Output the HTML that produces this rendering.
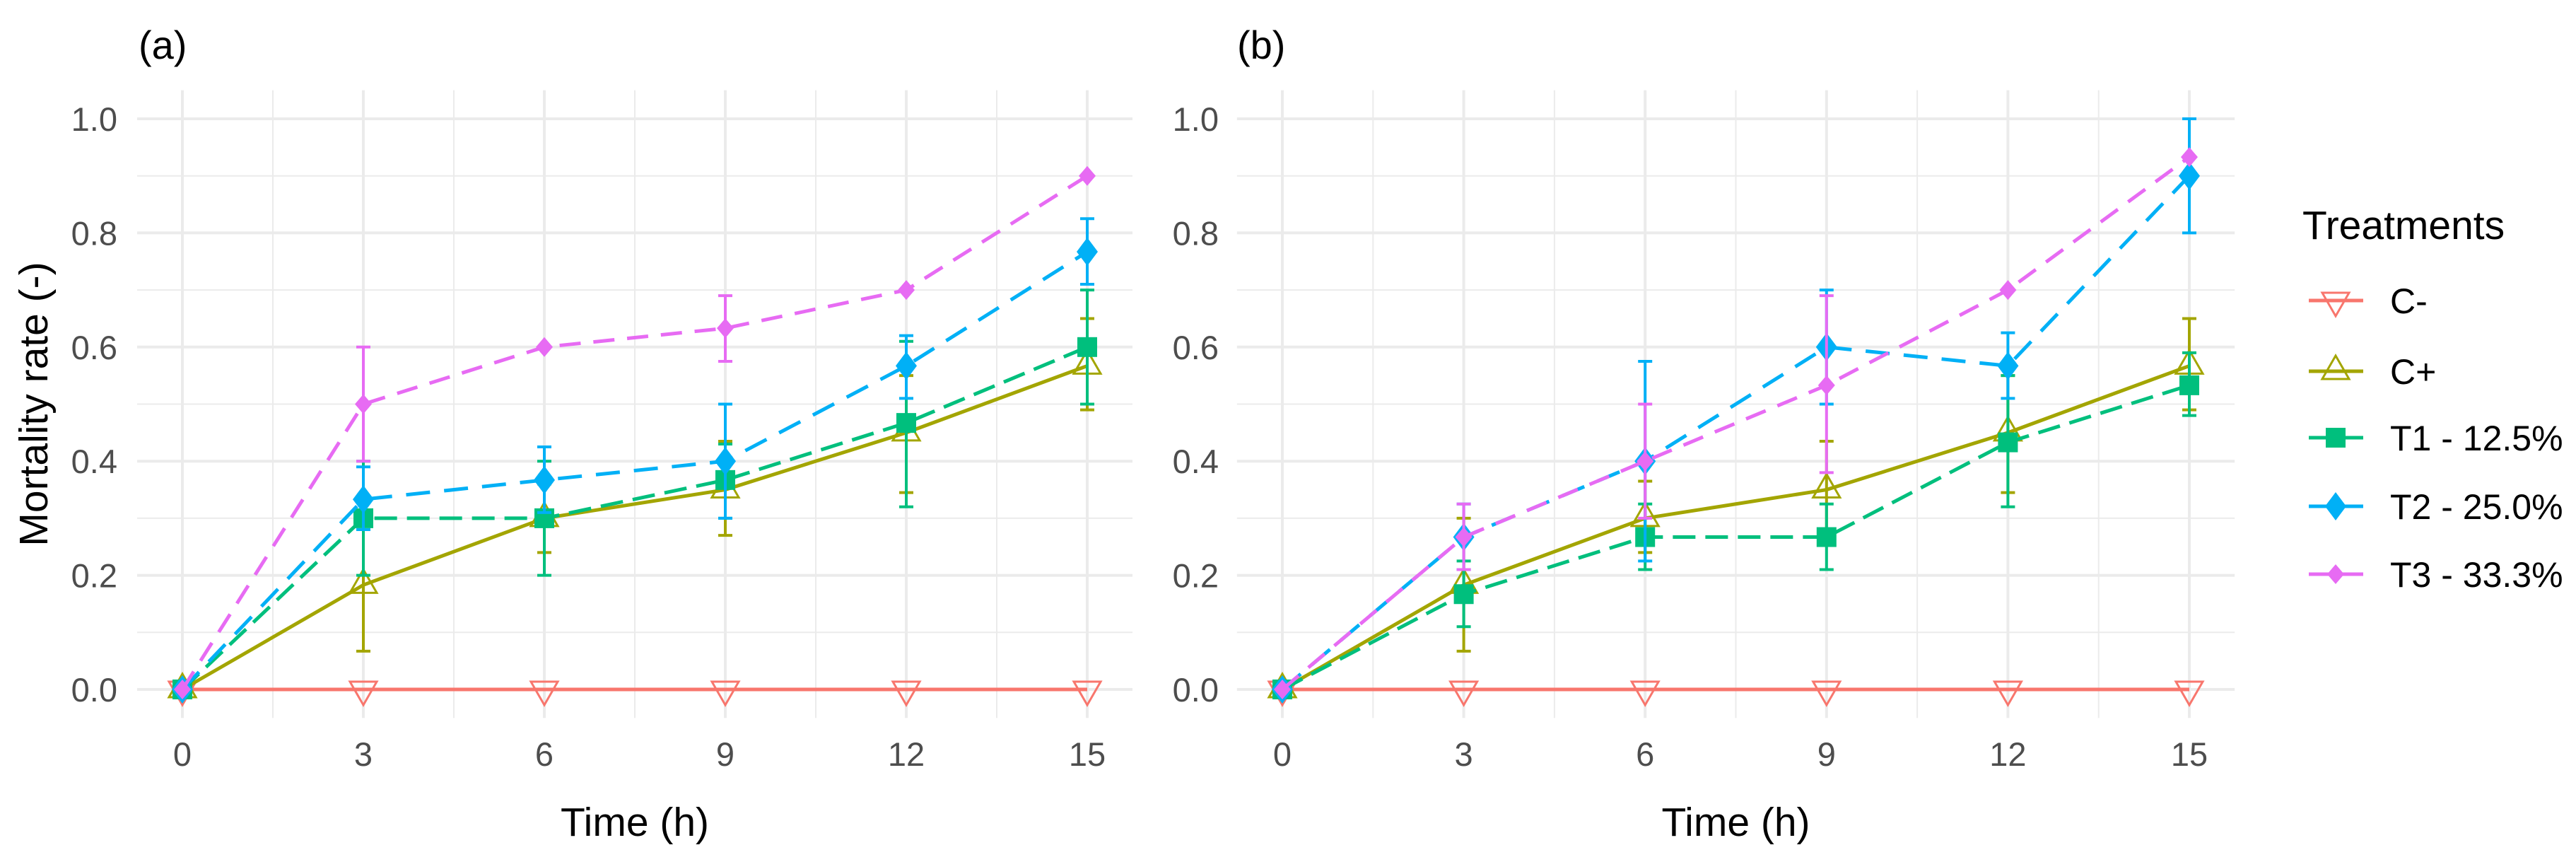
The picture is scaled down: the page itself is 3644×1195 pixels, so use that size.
<!DOCTYPE html>
<html><head><meta charset="utf-8"><style>
html,body{margin:0;padding:0;background:#fff;}
svg{display:block;font-family:"Liberation Sans",Arial,sans-serif;}
</style></head><body>
<svg id="chart" width="3644" height="1195" viewBox="0 0 3644 1195" xmlns="http://www.w3.org/2000/svg"></svg>
<script>
const times = [0, 3, 6, 9, 12, 15];
const seriesNames = ["C-", "C+", "T1 - 12.5%", "T2 - 25.0%", "T3 - 33.3%"];
const xTicks = [0, 3, 6, 9, 12, 15];
const yTicks = [0, 0.2, 0.4, 0.6, 0.8, 1.0];
const yTickLabels = ["0.0", "0.2", "0.4", "0.6", "0.8", "1.0"];

// Panel (a)
const aCm = [0, 0, 0, 0, 0, 0];
const aCp = [0, 0.183, 0.3, 0.35, 0.45, 0.567];
const aCpLo = [0, 0.067, 0.24, 0.27, 0.345, 0.49];
const aCpHi = [0, 0.3, 0.36, 0.435, 0.55, 0.65];
const aT1 = [0, 0.3, 0.3, 0.367, 0.467, 0.6];
const aT1Lo = [0, 0.2, 0.2, 0.3, 0.32, 0.5];
const aT1Hi = [0, 0.4, 0.4, 0.43, 0.61, 0.7];
const aT2 = [0, 0.333, 0.367, 0.4, 0.567, 0.767];
const aT2Lo = [0, 0.28, 0.31, 0.3, 0.51, 0.71];
const aT2Hi = [0, 0.39, 0.425, 0.5, 0.62, 0.825];
const aT3 = [0, 0.5, 0.6, 0.633, 0.7, 0.9];
const aT3Lo = [0, 0.4, 0.6, 0.575, 0.7, 0.9];
const aT3Hi = [0, 0.6, 0.6, 0.69, 0.7, 0.9];

// Panel (b)
const bCm = [0, 0, 0, 0, 0, 0];
const bCp = [0, 0.183, 0.3, 0.35, 0.45, 0.567];
const bCpLo = [0, 0.067, 0.24, 0.27, 0.345, 0.49];
const bCpHi = [0, 0.3, 0.365, 0.435, 0.55, 0.65];
const bT1 = [0, 0.167, 0.267, 0.267, 0.433, 0.533];
const bT1Lo = [0, 0.11, 0.21, 0.21, 0.32, 0.48];
const bT1Hi = [0, 0.225, 0.325, 0.325, 0.55, 0.59];
const bT2 = [0, 0.267, 0.4, 0.6, 0.567, 0.9];
const bT2Lo = [0, 0.21, 0.225, 0.5, 0.51, 0.8];
const bT2Hi = [0, 0.325, 0.575, 0.7, 0.625, 1.0];
const bT3 = [0, 0.267, 0.4, 0.533, 0.7, 0.933];
const bT3Lo = [0, 0.21, 0.3, 0.38, 0.7, 0.933];
const bT3Hi = [0, 0.325, 0.5, 0.69, 0.7, 0.933];

const colors = ["#F8766D", "#A3A500", "#00BF7D", "#00B0F6", "#E76BF3"];
const dashes = [null, null, "32 14", "34 20", "30 18"];
const shapes = ["tri-down", "tri-up", "square", "diamond", "diamond-s"];

const NS = "http://www.w3.org/2000/svg";
const svg = document.getElementById("chart");
function mk(tag, attrs, parent) {
  const e = document.createElementNS(NS, tag);
  for (const k in attrs) e.setAttribute(k, attrs[k]);
  (parent || svg).appendChild(e);
  return e;
}

function marker(g, shape, cx, cy, color) {
  let m;
  if (shape === "tri-down") {
    const s = 19;
    m = mk("polygon", {points: `${cx-s},${cy-11} ${cx+s},${cy-11} ${cx},${cy+22}`, fill: "none", stroke: color, "stroke-width": 3}, g);
  } else if (shape === "tri-up") {
    const s = 19;
    m = mk("polygon", {points: `${cx-s},${cy+11} ${cx+s},${cy+11} ${cx},${cy-22}`, fill: "none", stroke: color, "stroke-width": 3}, g);
  } else if (shape === "square") {
    m = mk("rect", {x: cx-14, y: cy-14, width: 28, height: 28, fill: color}, g);
  } else if (shape === "diamond") {
    m = mk("polygon", {points: `${cx},${cy-20} ${cx+15},${cy} ${cx},${cy+20} ${cx-15},${cy}`, fill: color}, g);
  } else {
    m = mk("polygon", {points: `${cx},${cy-14} ${cx+12},${cy} ${cx},${cy+14} ${cx-12},${cy}`, fill: color}, g);
  }
  return m;
}

function panel(opts) {
  const {x0px, x15px, label, labelX, yLabelRight, data, showYTitle, name} = opts;
  const yTop = 168, yBot = 975;
  const xs = v => x0px + (x15px - x0px) * v / 15;
  const ys = v => yBot - (yBot - yTop) * v;
  const ext = (x15px - x0px) * 0.05;
  const left = x0px - ext, right = x15px + ext;
  const top = ys(1.05), bot = ys(-0.05);
  const g = mk("g", {});
  
  

  // minor grid
  for (let i = 0; i < yTicks.length - 1; i++) {
    const v = (yTicks[i] + yTicks[i + 1]) / 2;
    mk("line", {x1: left, x2: right, y1: ys(v), y2: ys(v), stroke: "#ebebeb", "stroke-width": 2}, g);
  }
  for (let i = 0; i < xTicks.length - 1; i++) {
    const v = (xTicks[i] + xTicks[i + 1]) / 2;
    mk("line", {x1: xs(v), x2: xs(v), y1: top, y2: bot, stroke: "#ebebeb", "stroke-width": 2}, g);
  }
  // major grid + labels
  yTicks.forEach((v, i) => {
    const l = mk("line", {x1: left, x2: right, y1: ys(v), y2: ys(v), stroke: "#ebebeb", "stroke-width": 4}, g);
    
    
    const t = mk("text", {x: yLabelRight, y: ys(v) + 17, "text-anchor": "end", "font-size": 47, fill: "#4d4d4d"}, g);
    t.textContent = yTickLabels[i];
    
    
  });
  xTicks.forEach(v => {
    const l = mk("line", {x1: xs(v), x2: xs(v), y1: top, y2: bot, stroke: "#ebebeb", "stroke-width": 4}, g);
    
    
    const t = mk("text", {x: xs(v), y: 1083, "text-anchor": "middle", "font-size": 47, fill: "#4d4d4d"}, g);
    t.textContent = String(v);
    
    
  });

  // series
  data.forEach((s, si) => {
    const sg = mk("g", {}, g);
    
    
    // error bars
    if (s.lo) {
      times.forEach((t, i) => {
        if (s.hi[i] - s.lo[i] < 0.001) return;
        const eb = mk("g", {}, sg);
        
        
        const x = xs(t);
        mk("line", {x1: x, x2: x, y1: ys(s.lo[i]), y2: ys(s.hi[i]), stroke: colors[si], "stroke-width": 4}, eb);
        mk("line", {x1: x - 10, x2: x + 10, y1: ys(s.lo[i]), y2: ys(s.lo[i]), stroke: colors[si], "stroke-width": 4}, eb);
        mk("line", {x1: x - 10, x2: x + 10, y1: ys(s.hi[i]), y2: ys(s.hi[i]), stroke: colors[si], "stroke-width": 4}, eb);
      });
    }
    const pts = times.map((t, i) => xs(t) + "," + ys(s.y[i])).join(" ");
    const pl = mk("polyline", {points: pts, fill: "none", stroke: colors[si], "stroke-width": 5}, sg);
    if (dashes[si]) pl.setAttribute("stroke-dasharray", dashes[si]);
    
    
    times.forEach((t, i) => {
      const m = marker(sg, shapes[si], xs(t), ys(s.y[i]), colors[si]);
      
      
    });
  });

  const lt = mk("text", {x: labelX, y: 83, "font-size": 56, fill: "#000"}, g);
  lt.textContent = label;
  
  

  const xt = mk("text", {x: (left + right) / 2, y: 1182, "text-anchor": "middle", "font-size": 57, fill: "#000"}, g);
  xt.textContent = "Time (h)";
  
  

  if (showYTitle) {
    const yt = mk("text", {x: 0, y: 0, "text-anchor": "middle", "font-size": 57, fill: "#000", transform: `translate(67,${(top + bot) / 2}) rotate(-90)`}, g);
    yt.textContent = "Mortality rate (-)";
    
    
  }
}

panel({
  name: "panel-a", x0px: 258, x15px: 1538, label: "(a)", labelX: 196, yLabelRight: 166, showYTitle: true,
  data: [
    {y: aCm},
    {y: aCp, lo: aCpLo, hi: aCpHi},
    {y: aT1, lo: aT1Lo, hi: aT1Hi},
    {y: aT2, lo: aT2Lo, hi: aT2Hi},
    {y: aT3, lo: aT3Lo, hi: aT3Hi}
  ]
});
panel({
  name: "panel-b", x0px: 1814, x15px: 3097, label: "(b)", labelX: 1750, yLabelRight: 1724, showYTitle: false,
  data: [
    {y: bCm},
    {y: bCp, lo: bCpLo, hi: bCpHi},
    {y: bT1, lo: bT1Lo, hi: bT1Hi},
    {y: bT2, lo: bT2Lo, hi: bT2Hi},
    {y: bT3, lo: bT3Lo, hi: bT3Hi}
  ]
});

// legend
const lg = mk("g", {});


const ltt = mk("text", {x: 3257, y: 338, "font-size": 57, fill: "#000"}, lg);
ltt.textContent = "Treatments";


const legY = [425, 525, 619, 716, 812];
seriesNames.forEach((n, i) => {
  const eg = mk("g", {}, lg);
  
  
  mk("line", {x1: 3266, x2: 3343, y1: legY[i], y2: legY[i], stroke: colors[i], "stroke-width": 5}, eg);
  marker(eg, shapes[i], 3304, legY[i], colors[i]);
  const t = mk("text", {x: 3381, y: legY[i] + 18, "font-size": 50, fill: "#000"}, eg);
  t.textContent = n;
});
</script>
</body></html>
